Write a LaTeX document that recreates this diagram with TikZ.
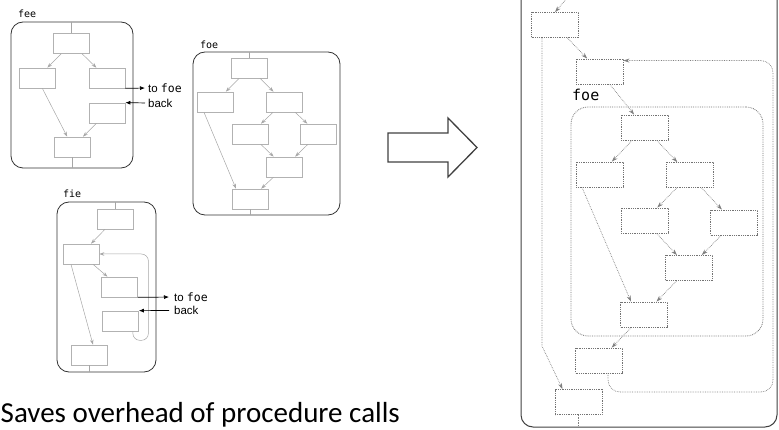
\documentclass[tikz,border=0pt]{standalone}
\usepackage{fontspec}
\setmainfont{Carlito}
\setsansfont{Liberation Sans}
\setmonofont{DejaVu Sans Mono}
\usetikzlibrary{arrows.meta,calc}
\begin{document}
\begin{tikzpicture}[x=1pt,y=-1pt,
  lbox/.style={draw=black!80, line width=0.8pt, rounded corners=12pt, inner sep=0pt},
  lblk/.style={draw=gray!60, line width=0.7pt, minimum width=36pt, minimum height=20pt, inner sep=0pt},
  larr/.style={draw=gray!70, line width=0.5pt, -{Stealth[length=5pt,width=3.5pt]}},
  lline/.style={draw=gray!70, line width=0.5pt},
  barr/.style={draw=black, line width=0.7pt, -{Latex[length=5pt,width=4pt]}},
  obox/.style={draw=black!75, line width=1pt, rounded corners=12pt, inner sep=0pt},
  rfbox/.style={draw=black!55, densely dotted, line width=0.8pt, rounded corners=17pt, inner sep=0pt},
  rblk/.style={draw=black!55, densely dotted, line width=0.8pt, minimum width=47pt, minimum height=25pt, inner sep=0pt},
  rarr/.style={draw=black!50, densely dotted, line width=0.7pt, -{Stealth[length=6pt,width=4pt]}},
  rline/.style={draw=black!50, densely dotted, line width=0.7pt},
  lbl/.style={font=\ttfamily\fontsize{10}{12}\selectfont, inner sep=0pt, anchor=base west},
  side/.style={font=\sffamily\fontsize{11.5}{13}\selectfont, inner sep=0pt, anchor=west}
]
\useasboundingbox (0,0) rectangle (779,430);
\clip (0,0) rectangle (779,430);

% ---------------- fee ----------------
\node[lbox, minimum width=122pt, minimum height=146pt] (feebox) at (72,95) {};
\node[lbl] (feelbl) at (18,18) {fee};
\node[lblk] (fa) at (71.5,43.5) {};
\node[lblk] (fb) at (37,78) {};
\node[lblk] (fc) at (107,78) {};
\node[lblk] (fd) at (107,113) {};
\node[lblk] (fe) at (72.5,147) {};
\draw[lline] (fa.north) -- (fa.north |- feebox.north);
\draw[lline] (fe.south) -- (fe.south |- feebox.south);
\draw[larr] (fa) -- (fb);
\draw[larr] (fa) -- (fc);
\draw[larr] (fb) -- (fe);
\draw[larr] (fd) -- (fe);
\node[side] (tofee) at (148,88) {to \texttt{foe}};
\node[side] (backfee) at (148,103) {back};
\draw[barr, shorten >=3pt] (fc.south east) -- (tofee.west);
\draw[barr, shorten <=3pt] (backfee.west) -- (fd.north east);

% ---------------- foe ----------------
\node[lbox, minimum width=147pt, minimum height=163pt] (foebox) at (266.5,133.5) {};
\node[lbl] (foelbl) at (200,49) {foe};
\node[lblk] (ga) at (249.5,68) {};
\node[lblk] (gb) at (215.5,102) {};
\node[lblk] (gc) at (284,102) {};
\node[lblk] (gd) at (250,134) {};
\node[lblk] (ge) at (318.5,134) {};
\node[lblk] (gf) at (284.5,167) {};
\node[lblk] (gg) at (250,199) {};
\draw[lline] (ga.north) -- (ga.north |- foebox.north);
\draw[lline] (gg.south) -- (gg.south |- foebox.south);
\draw[larr] (ga) -- (gb);
\draw[larr] (ga) -- (gc);
\draw[larr] (gc) -- (gd);
\draw[larr] (gc) -- (ge);
\draw[larr] (gd) -- (gf);
\draw[larr] (ge) -- (gf);
\draw[larr] (gf) -- (gg);
\draw[larr] ([xshift=-11.5pt]gb.south) -- ([xshift=-14pt]gg.north);

% ---------------- fie ----------------
\node[lbox, minimum width=99pt, minimum height=170pt] (fiebox) at (106.5,287) {};
\node[lbl] (fielbl) at (63,198) {fie};
\node[lblk] (ha) at (115,219) {};
\node[lblk] (hb) at (81,254) {};
\node[lblk] (hc) at (119.5,287) {};
\node[lblk] (hd) at (120.5,321) {};
\node[lblk] (he) at (89,355) {};
\draw[lline] (ha.north) -- (ha.north |- fiebox.north);
\draw[lline] (he.south) -- (he.south |- fiebox.south);
\draw[larr] (ha) -- (hb);
\draw[larr] (hb) -- (hc);
\draw[larr] ([xshift=-10pt]hb.south) -- ([xshift=4pt]he.north);
\draw[larr, rounded corners=7pt] ([xshift=-6pt]hd.south east) -- ++(0,9)
  -| ($(fiebox.east |- hb.east)+(-8,0)$) -- (hb.east);
\node[side] (tofie) at (174,297) {to \texttt{foe}};
\node[side] (backfie) at (174,310.5) {back};
\draw[barr, shorten >=5pt] (hc.south east) -- (tofie.west);
\draw[barr, shorten <=5pt] (backfie.west) -- (hd.north east);

% ---------------- big arrow ----------------
\draw[draw=black!75, line width=1.3pt, line join=miter]
  (388,133) -- (448,133) -- (448,118) -- (477,147.5) -- (448,177) -- (448,162) -- (388,162) -- cycle;

% ---------------- inlined (right) ----------------
\node[obox, minimum width=256pt, minimum height=457pt] (outer) at (649,198.5) {};
\node[rfbox, minimum width=192pt, minimum height=229pt] (rfoe) at (667,221.5) {};
\node[font=\ttfamily\fontsize{15}{18}\selectfont, anchor=base west, inner sep=0pt] (rfoelbl) at (572,101) {foe};
\node[rblk] (B1) at (555,25) {};
\node[rblk] (B2) at (599.5,71.5) {};
\node[rblk] (F1) at (644.5,127.5) {};
\node[rblk] (F2) at (599.5,174.5) {};
\node[rblk] (F3) at (689.5,175) {};
\node[rblk] (F4) at (644.5,220.5) {};
\node[rblk] (F5) at (734,222.5) {};
\node[rblk] (F6) at (689,268) {};
\node[rblk] (F7) at (644,314.5) {};
\node[rblk] (B6) at (599,360.5) {};
\node[rblk] (B7) at (578.5,402) {};
\coordinate (rin) at (568,-3);
\coordinate (lk) at (542,346);
\coordinate (rb) at (773,392);
\draw[rarr] (rin) -- (B1.north);
\draw[rarr] ([xshift=-13pt]B1.south) -- (lk) -- ([xshift=-16pt]B7.north);
\draw[rarr] (B1) -- (B2);
\draw[rarr] (B2) -- (F1);
\draw[rarr] (F1) -- (F2);
\draw[rarr] (F1) -- (F3);
\draw[rarr] (F3) -- (F4);
\draw[rarr] (F3) -- (F5);
\draw[rarr] (F4) -- (F6);
\draw[rarr] (F5) -- (F6);
\draw[rarr] (F6) -- (F7);
\draw[rarr] ([xshift=-17.5pt]F2.south) -- ([xshift=-13pt]F7.north);
\draw[rarr] (F7) -- (B6);
\draw[rarr, rounded corners=12pt] ([xshift=9pt]B6.south) |- (rb) |- ([yshift=-2pt]B2.north east);
\draw[rline] (B7.south) -- (B7.south |- outer.south);

% ---------------- caption ----------------
\node[anchor=base west, inner sep=0pt, font=\fontsize{29}{34}\selectfont] (note) at (0.5,422) {Saves overhead of procedure calls};
\end{tikzpicture}
\end{document}
